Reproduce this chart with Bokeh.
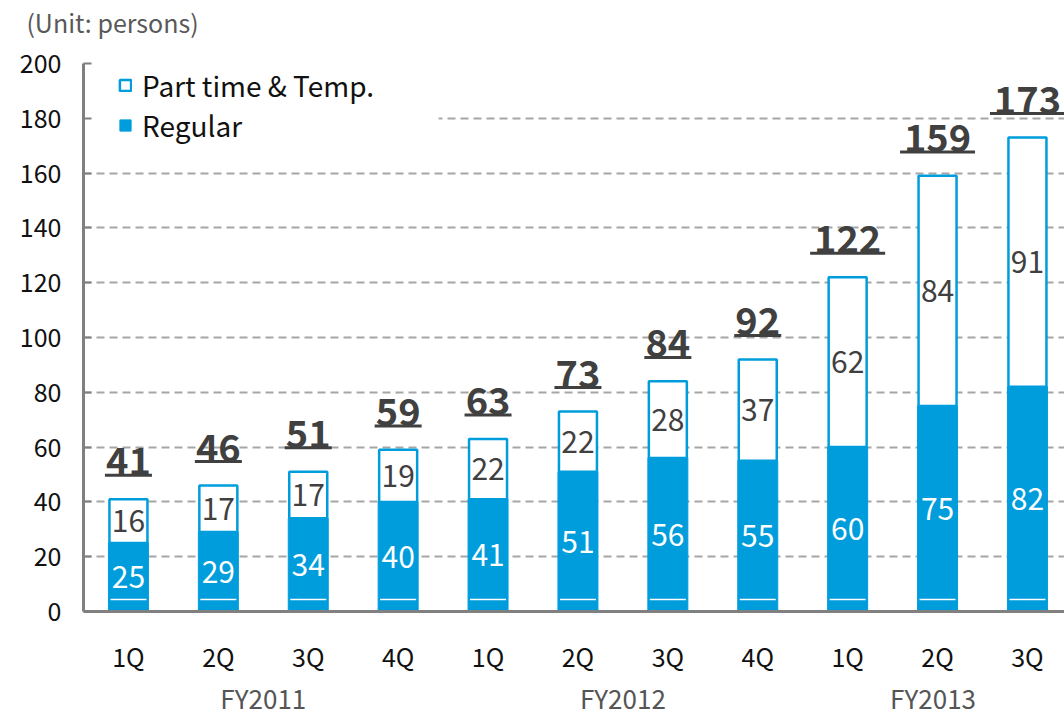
from bokeh.plotting import figure
from bokeh.models import (ColumnDataSource, Range1d, FixedTicker, LabelSet,
                          Legend, LegendItem, LinearAxis)
from bokeh.core.properties import value
from bokeh.embed import file_html
from bokeh.resources import INLINE

# Headcount by quarter
quarters = ["1Q", "2Q", "3Q", "4Q", "1Q", "2Q", "3Q", "4Q", "1Q", "2Q", "3Q"]
fiscal_years = ["FY2011", "FY2012", "FY2013"]
fiscal_year_centers = [1.5, 5.5, 8.95]
regular = [25, 29, 34, 40, 41, 51, 56, 55, 60, 75, 82]
part_time = [16, 17, 17, 19, 22, 22, 28, 37, 62, 84, 91]
y_ticks = [0, 20, 40, 60, 80, 100, 120, 140, 160, 180, 200]
unit_label = "(Unit: persons)"

BLUE = "#009ddc"
FONT = "Noto Sans CJK JP"

W, H = 1064, 718
LEFT, TOP, BOTTOM = 83, 62, 107
frame_h = H - TOP - BOTTOM
frame_w = W - LEFT
slot_px = 89.9
u = 200 / frame_h  # data units per pixel (vertical)

x = list(range(len(quarters)))
total = [r + p for r, p in zip(regular, part_time)]
src = ColumnDataSource(dict(
    x=x,
    regular=regular,
    part=part_time,
    total=total,
    total_txt=[str(t) for t in total],
    reg_txt=[str(v) for v in regular],
    part_txt=[str(v) for v in part_time],
    reg_mid=[r / 2 for r in regular],
    part_mid=[r + p / 2 for r, p in zip(regular, part_time)],
    uline_y=[t + 24 * u for t in total],
    uline_x0=[i - (28 * len(str(t)) - 9) / 2 / slot_px for i, t in zip(x, total)],
    uline_x1=[i + (28 * len(str(t)) - 9) / 2 / slot_px for i, t in zip(x, total)],
))

p = figure(width=W, height=H, output_backend="svg", toolbar_location=None,
           x_range=Range1d(-0.5, -0.5 + frame_w / slot_px), y_range=Range1d(0, 200),
           min_border_left=LEFT, min_border_right=0, min_border_top=TOP,
           min_border_bottom=BOTTOM)
p.outline_line_color = None
p.background_fill_color = "white"

# y axis
p.yaxis.ticker = FixedTicker(ticks=y_ticks)
p.yaxis.axis_line_color = "#808080"
p.yaxis.axis_line_width = 3
p.yaxis.major_tick_in = 8
p.yaxis.major_tick_out = 0
p.yaxis.major_tick_line_color = "#808080"
p.yaxis.major_tick_line_width = 2
p.yaxis.minor_tick_line_color = None
p.yaxis.major_label_text_font = FONT
p.yaxis.major_label_text_font_size = "25px"
p.yaxis.major_label_text_color = "#111111"
p.yaxis.major_label_standoff = 22

# quarter axis (the default bottom axis)
xa = p.below[0]
xa.ticker = FixedTicker(ticks=x)
xa.major_label_overrides = {i: q for i, q in zip(x, quarters)}
xa.axis_line_color = "#808080"
xa.axis_line_width = 3
xa.major_tick_line_color = None
xa.minor_tick_line_color = None
xa.major_label_text_font = FONT
xa.major_label_text_font_size = "25px"
xa.major_label_text_color = "#111111"
xa.major_label_standoff = 20

# fiscal-year row under the quarters
fy_axis = LinearAxis(ticker=FixedTicker(ticks=fiscal_year_centers),
                     major_label_overrides={c: f for c, f in zip(fiscal_year_centers, fiscal_years)},
                     axis_line_color=None, major_tick_line_color=None,
                     minor_tick_line_color=None, major_label_standoff=-4,
                     major_label_text_font=FONT, major_label_text_font_size="26px",
                     major_label_text_color="#555555")
p.add_layout(fy_axis, "below")

# unit caption above the plot area, carried by a bare axis
unit_x = -0.5 + (112 - LEFT) / slot_px
unit_axis = LinearAxis(ticker=FixedTicker(ticks=[unit_x]),
                       major_label_overrides={unit_x: unit_label},
                       axis_line_color=None, major_tick_line_color=None,
                       minor_tick_line_color=None, major_label_standoff=18,
                       major_label_text_font=FONT, major_label_text_font_size="25px",
                       major_label_text_color="#595959")
p.add_layout(unit_axis, "above")

p.xgrid.grid_line_color = None
p.ygrid.ticker = FixedTicker(ticks=y_ticks[1:])
p.ygrid.grid_line_color = "#a6a6a6"
p.ygrid.grid_line_width = 2
p.ygrid.grid_line_dash = "8 5"

# white panel behind the legend
p.quad(left=-0.48, right=3.45, bottom=(H - BOTTOM - 150) * u, top=199,
       fill_color="white", line_color=None)

# stacked bars
bw = 40 / slot_px
r_reg = p.vbar(x="x", bottom=0, top="regular", width=bw, source=src,
               fill_color=BLUE, line_color=BLUE, line_width=1)
r_part = p.vbar(x="x", bottom="regular", top="total", width=bw - 2 / slot_px, source=src,
                fill_color="white", line_color=BLUE, line_width=2.5)

# thin white rule near the base of each bar
p.segment(x0=[i - 18 / slot_px for i in x], x1=[i + 18 / slot_px for i in x],
          y0=12 * u, y1=12 * u, line_color="white", line_width=1.5)

# segment values
p.add_layout(LabelSet(x="x", y="reg_mid", text="reg_txt", source=src,
                      text_align="center", text_baseline="middle",
                      text_font=value(FONT), text_font_size="30px", text_color="white"))
p.add_layout(LabelSet(x="x", y="part_mid", text="part_txt", source=src,
                      text_align="center", text_baseline="middle",
                      text_font=value(FONT), text_font_size="30px", text_color="#404040"))

# totals with underline
p.segment(x0="uline_x0", x1="uline_x1", y0="uline_y", y1="uline_y", source=src,
          line_color="#404040", line_width=3)
p.add_layout(LabelSet(x="x", y="uline_y", text="total_txt", source=src,
                      y_offset=0, text_align="center", text_baseline="bottom",
                      text_font=value(FONT), text_font_size="38px",
                      text_font_style="bold", text_color="#404040"))

legend = Legend(items=[LegendItem(label="Part time & Temp.", renderers=[r_part]),
                       LegendItem(label="Regular", renderers=[r_reg])],
                orientation="vertical")
legend.location = (35, (H - BOTTOM) - 145)
legend.padding = 0
legend.margin = 0
legend.spacing = 0
legend.glyph_width = 14
legend.glyph_height = 14
legend.label_height = 37
legend.label_standoff = 10
legend.label_text_font = FONT
legend.label_text_font_size = "28px"
legend.label_text_color = "#111111"
legend.background_fill_alpha = 0
legend.border_line_color = None
p.add_layout(legend)

open("out.html", "w").write(file_html(p, INLINE))
